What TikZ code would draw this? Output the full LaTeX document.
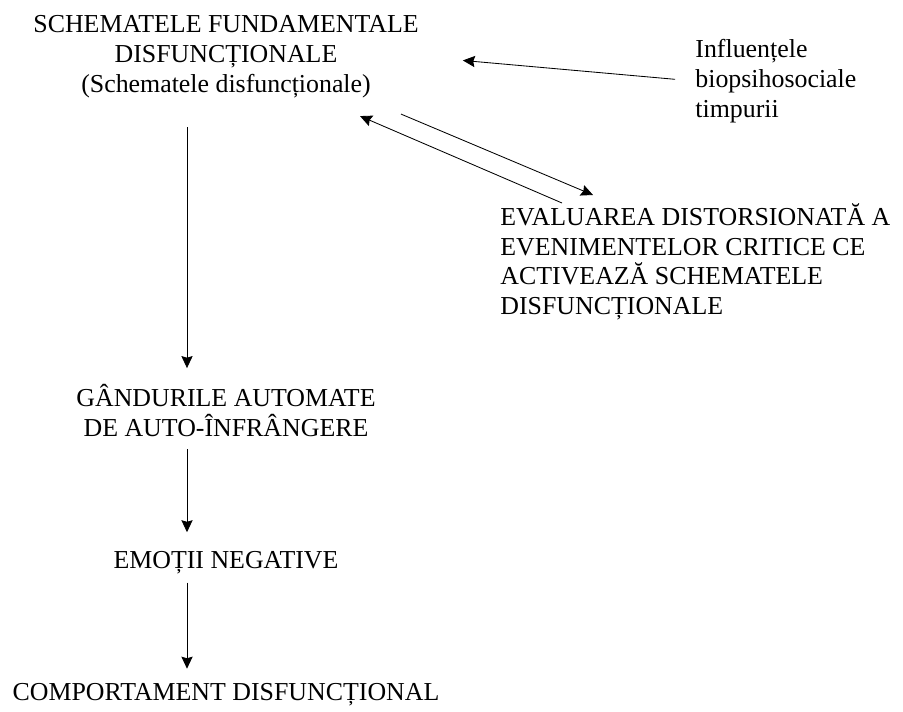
\documentclass[tikz,border=0pt]{standalone}
\usepackage{fontspec}
\setmainfont{Liberation Serif}
\usepackage{tikz}
\usetikzlibrary{positioning, arrows.meta}

\begin{document}
\begin{tikzpicture}[node distance=2.85cm, >={Stealth[length=3mm, width=2.8mm, inset=0.4mm]}, line width=0.6pt,
  every node/.style={inner sep=0pt, font=\fontsize{18.4}{21.2}\selectfont},
  centred/.style={align=center},
  leftset/.style={align=left}]
\useasboundingbox (0,0) rectangle (22.575,-17.775);

\node[centred, anchor=north] (schem) at (5.65,-0.375) {SCHEMATELE FUNDAMENTALE\\DISFUNCȚIONALE\\(Schematele disfuncționale)};
\node[leftset, anchor=north west] (infl) at (17.375,-0.975) {Influențele\\biopsihosociale\\timpurii};
\node[leftset, anchor=north west] (eval) at (12.5,-5.075) {EVALUAREA DISTORSIONATĂ A\\EVENIMENTELOR CRITICE CE\\ACTIVEAZĂ SCHEMATELE\\DISFUNCȚIONALE};
\node[centred, below=7.15cm of schem] (gand) {GÂNDURILE AUTOMATE\\DE AUTO-ÎNFRÂNGERE};
\node[centred, below=of gand] (emot) {EMOȚII NEGATIVE};
\node[centred, below=2.7cm of emot] (comp) {COMPORTAMENT DISFUNCȚIONAL};
\coordinate (col) at (4.675,0);

% the chain on the left
\draw[->, shorten <=0.725cm, shorten >=0.4cm] (schem.south -| col) -- (gand.north -| col);
\draw[->, shorten <=0.3cm, shorten >=0.475cm] (gand.south -| col) -- (emot.north -| col);
\draw[->, shorten <=0.2cm, shorten >=0.35cm] (emot.south -| col) -- (comp.north -| col);

% influences and the loop with the evaluation
\draw[->, shorten <=0.5cm, shorten >=1.1cm] (infl.west) -- (schem.east);
\draw[->] ([shift={(1.55cm,0cm)}]eval.north west) -- ([shift={(-1.475cm,-0.45cm)}]schem.south east);
\draw[->] ([shift={(-0.45cm,-0.4cm)}]schem.south east) -- ([shift={(2.325cm,0.2cm)}]eval.north west);
\end{tikzpicture}
\end{document}
